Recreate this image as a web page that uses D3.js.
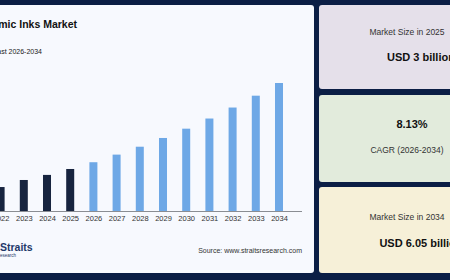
<!DOCTYPE html>
<html>
<head>
<meta charset="utf-8">
<script src="https://cdn.jsdelivr.net/npm/d3@7"></script>
<style>
  body { margin: 0; background: #0b1e45; }
  svg { display: block; font-family: "Liberation Sans", Arial, sans-serif; }
</style>
</head>
<body>
<div id="chart"></div>
<script>
// values (USD billion)
var years = ["2022", "2023", "2024", "2025", "2026", "2027", "2028", "2029", "2030", "2031", "2032", "2033", "2034"];
var values = [2.36, 2.61, 2.79, 3.0, 3.24, 3.51, 3.79, 4.10, 4.43, 4.79, 5.18, 5.60, 6.05];
var firstForecast = "2026";

var cardLabels = ["Market Size in 2025", "CAGR (2026-2034)", "Market Size in 2034"];
var cardValues = ["USD 3 billion", "8.13%", "USD 6.05 billion"];
var cardColors = ["#e5e0ea", "#e2ebdc", "#f6f0d8"];

var W = 450, H = 280;

var svg = d3.select("#chart").append("svg")
  .attr("width", W)
  .attr("height", H);

svg.append("rect")
  .attr("width", W).attr("height", H)
  .attr("fill", "#0b1e45");

// main panel
svg.append("rect")
  .attr("x", -10).attr("y", 5)
  .attr("width", 324).attr("height", 268)
  .attr("rx", 3)
  .attr("fill", "#f7f9fe");

svg.append("text")
  .attr("x", 77).attr("y", 28)
  .attr("text-anchor", "end")
  .style("font-size", "10.5px")
  .style("font-weight", "bold")
  .attr("fill", "#111")
  .text("Ceramic Inks Market");

svg.append("text")
  .attr("x", 42).attr("y", 54)
  .attr("text-anchor", "end")
  .style("font-size", "7px")
  .attr("fill", "#222")
  .text("Market Size & Forecast 2026-2034");

var baseY = 211;

var x = d3.scalePoint()
  .domain(years)
  .range([0.6, 279]);

var y = d3.scaleLinear()
  .domain([1.51, 6.05])
  .range([baseY, 83]);

var barW = x.step() * 0.345;

svg.selectAll(".bar")
  .data(years)
  .enter().append("rect")
  .attr("class", "bar")
  .attr("x", function (d) { return x(d) - barW / 2; })
  .attr("y", function (d, i) { return y(values[i]); })
  .attr("width", barW)
  .attr("height", function (d, i) { return baseY - y(values[i]); })
  .attr("fill", function (d) { return +d >= +firstForecast ? "#6ea8e6" : "#17243f"; });

var xAxis = d3.axisBottom(x).tickSize(0).tickPadding(5);

var gx = svg.append("g")
  .attr("transform", "translate(0," + baseY + ")")
  .call(xAxis);

gx.select(".domain").remove();
gx.selectAll("text")
  .style("font-size", "7.5px")
  .style("font-family", "'Liberation Sans', Arial, sans-serif")
  .attr("fill", "#333");

svg.append("line")
  .attr("x1", -10).attr("x2", 302)
  .attr("y1", baseY + 0.5).attr("y2", baseY + 0.5)
  .attr("stroke", "#8a8d93")
  .attr("stroke-width", 1);

// logo
svg.append("text")
  .attr("x", 0).attr("y", 251)
  .style("font-size", "10.5px")
  .style("font-weight", "bold")
  .attr("fill", "#1f3869")
  .text("Straits");

svg.append("text")
  .attr("x", 16).attr("y", 256.5)
  .attr("text-anchor", "end")
  .style("font-size", "4.5px")
  .attr("fill", "#1f3869")
  .text("Research");

svg.append("text")
  .attr("x", 302).attr("y", 252.5)
  .attr("text-anchor", "end")
  .style("font-size", "7px")
  .attr("fill", "#333")
  .text("Source: www.straitsresearch.com");

// right cards
var cardTop = [5, 95, 187];
var cardH = [84, 87, 86];

var cards = svg.selectAll(".card")
  .data(cardLabels)
  .enter().append("g")
  .attr("class", "card");

cards.append("rect")
  .attr("x", 319)
  .attr("y", function (d, i) { return cardTop[i]; })
  .attr("width", 150)
  .attr("height", function (d, i) { return cardH[i]; })
  .attr("rx", 3)
  .attr("fill", function (d, i) { return cardColors[i]; });

// label first except for the CAGR card, where the value sits on top
var labelY = [35, 153, 220];
var valueY = [61, 128, 247];
var valueX = [421, 412, 421];

cards.append("text")
  .attr("x", 407)
  .attr("y", function (d, i) { return labelY[i]; })
  .attr("text-anchor", "middle")
  .style("font-size", "8.5px")
  .attr("fill", "#333")
  .text(function (d) { return d; });

cards.append("text")
  .attr("x", function (d, i) { return valueX[i]; })
  .attr("y", function (d, i) { return valueY[i]; })
  .attr("text-anchor", "middle")
  .style("font-size", "11px")
  .style("font-weight", "bold")
  .attr("fill", "#111")
  .text(function (d, i) { return cardValues[i]; });
</script>
</body>
</html>
